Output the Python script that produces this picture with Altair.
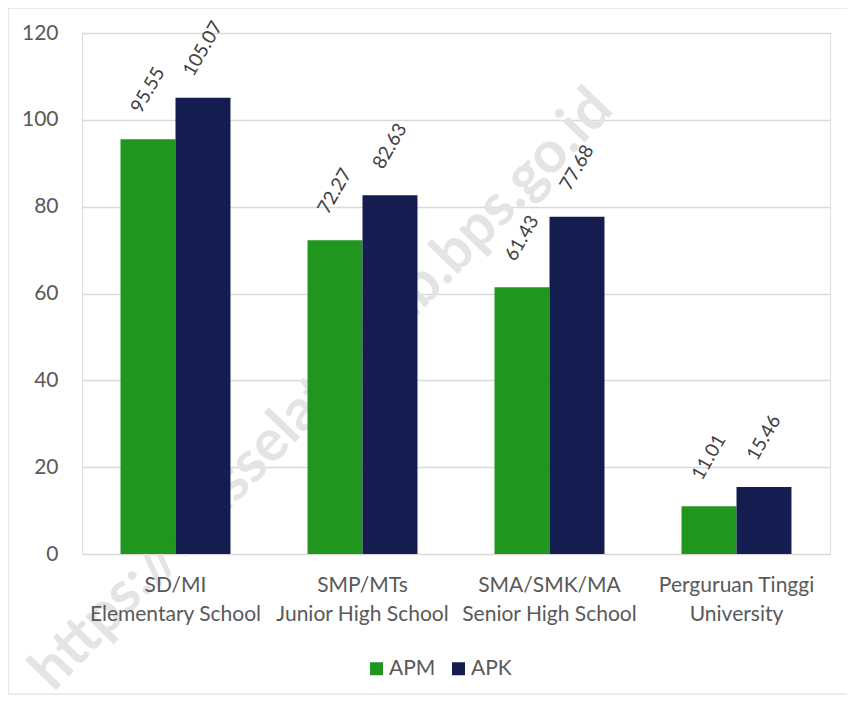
import altair as alt
import pandas as pd

categories_id = ["SD/MI", "SMP/MTs", "SMA/SMK/MA", "Perguruan Tinggi"]
categories_en = ["Elementary School", "Junior High School", "Senior High School", "University"]
series = ["APM", "APK"]
apm = [95.55, 72.27, 61.43, 11.01]
apk = [105.07, 82.63, 77.68, 15.46]
colors = ["#20961e", "#151c50"]
y_ticks = [0, 20, 40, 60, 80, 100, 120]
watermark = "https://niasselatankab.bps.go.id"

cats = [a + "\n" + b for a, b in zip(categories_id, categories_en)]
rows = []
for c, v1, v2 in zip(cats, apm, apk):
    rows.append({"cat": c, "series": "APM", "value": v1})
    rows.append({"cat": c, "series": "APK", "value": v2})
df = pd.DataFrame(rows)
df["label"] = df["value"].map(lambda v: f"{v:.2f}")

FONT = "Lato"

x_enc = alt.X(
    "cat:N",
    sort=cats,
    scale=alt.Scale(paddingInner=0.412, paddingOuter=0.206),
    axis=alt.Axis(
        title=None,
        labelAngle=0,
        labelExpr="split(datum.label, '\\n')",
        labelLineHeight=29,
        labelFontSize=21,
        labelFont=FONT,
        labelColor="#595959",
        labelPadding=20,
        ticks=False,
        domain=False,
        grid=False,
        labelBaseline="top",
        zindex=2,
    ),
)
xoff = alt.XOffset("series:N", sort=series, scale=alt.Scale(paddingInner=0, paddingOuter=0))
y_enc = alt.Y(
    "value:Q",
    scale=alt.Scale(domain=[0, 120], nice=False),
    axis=alt.Axis(
        title=None,
        values=y_ticks,
        labelFontSize=21,
        labelFont=FONT,
        labelColor="#595959",
        labelPadding=24,
        ticks=False,
        domain=False,
        gridColor="#d9d9d9",
        gridWidth=1.3,
    ),
)

deco = pd.DataFrame({"t": [watermark]})

border = alt.Chart(deco).mark_rect(fill=None, stroke="#d9d9d9", strokeWidth=1.2).encode(
    x=alt.value(-74), x2=alt.value(766), y=alt.value(-25), y2=alt.value(661)
)

wm = alt.Chart(deco).mark_text(
    angle=314, font=FONT, fontWeight="bold", fontSize=58, color="#e4e4e4",
    align="center", baseline="middle"
).encode(text="t:N", x=alt.value(240), y=alt.value(357))

bars = alt.Chart(df).mark_bar().encode(
    x=x_enc,
    xOffset=xoff,
    y=y_enc,
    color=alt.Color(
        "series:N",
        sort=series,
        scale=alt.Scale(domain=series, range=colors),
        legend=alt.Legend(
            title=None,
            orient="none",
            legendX=284,
            legendY=625,
            direction="horizontal",
            symbolType="square",
            symbolSize=169,
            symbolStrokeWidth=0,
            labelFontSize=21,
            labelFont=FONT,
            labelColor="#595959",
            columnPadding=12,
            labelOffset=2,
            padding=0,
        ),
    ),
)

labels = alt.Chart(df).mark_text(
    angle=300, align="center", baseline="middle", dx=42.5, dy=-24.5,
    font=FONT, fontSize=19, color="#404040"
).encode(
    x=alt.X("cat:N", sort=cats),
    xOffset=alt.XOffset("series:N", sort=series),
    y=alt.Y("value:Q"),
    text="label:N",
)

chart = alt.layer(border, wm, bars, labels).properties(
    width=748,
    height=521,
    autosize=alt.AutoSizeParams(type="none"),
    padding={"left": 74, "top": 25, "right": 17, "bottom": 141},
).configure_view(stroke=None).configure(background="white")

chart.save("out.html", embed_options={"renderer": "svg", "actions": False})
